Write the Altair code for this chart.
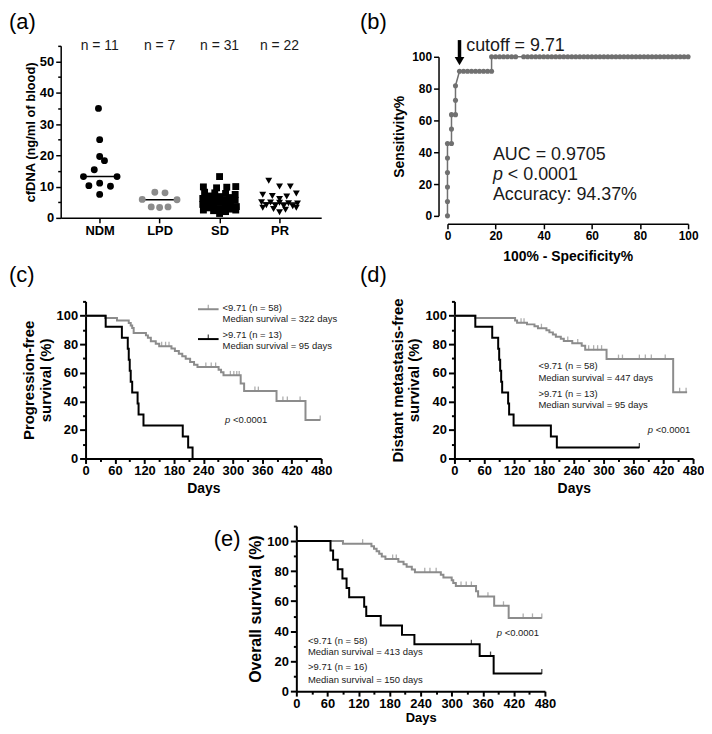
import altair as alt
import pandas as pd
import numpy as np

FONT = "Liberation Sans"
GRAY = "#8c8c8c"
ROC_GRAY = "#707070"
TXT = "#1a1a1a"

# ---------------- (a) scatter data ----------------
a_groups = ["NDM", "LPD", "SD", "PR"]
a_colors = ["black", GRAY, "black", "black"]
a_shapes = ["circle", "circle", "square", "triangle-down"]
a_yticks = [0, 5, 10, 15, 20, 25, 30, 35, 40, 45, 50, 55]

ndm_vals = [35.0, 25.0, 19.6, 18.3, 15.4, 13.2, 13.2, 11.1, 10.3, 10.1, 7.5]
ndm_jit = [-0.02, 0.0, 0.0, 0.08, -0.09, -0.27, 0.29, 0.0, -0.18, 0.18, 0.0]
lpd_vals = [8.2, 8.0, 5.9, 5.8, 3.5, 3.3, 3.5]
lpd_jit = [-0.08, 0.09, -0.29, 0.29, -0.14, 0.0, 0.14]
sd_vals = [13.2, 9.9, 9.6, 9.8, 10.0, 8.2, 8.0, 7.8, 7.5, 7.0, 6.8, 6.5, 6.2, 6.0, 5.8, 5.6,
           5.2, 5.0, 4.8, 4.3, 4.1, 3.9, 3.6, 3.2, 3.0, 2.8, 2.5, 2.5, 2.3, 2.0, 1.4]
sd_jit = [0.0, -0.27, -0.05, 0.12, 0.27, -0.25, -0.08, 0.1, 0.26, -0.17, 0.0, 0.17, -0.28, -0.1, 0.08, 0.26,
          -0.18, 0.0, 0.18, -0.28, -0.1, 0.1, 0.28, -0.2, 0.0, 0.2, -0.27, 0.27, -0.1, 0.1, 0.0]
pr_vals = [11.9, 10.0, 10.0, 7.8, 7.4, 7.0, 6.8, 6.0, 5.0, 4.9, 4.8, 4.7, 4.6, 4.0, 3.9, 3.8, 3.7,
           3.2, 3.2, 2.8, 2.6, 1.8]
pr_jit = [-0.18, 0.0, 0.18, 0.28, -0.28, -0.12, 0.12, 0.0, -0.3, -0.15, 0.0, 0.15, 0.3, -0.22, -0.07, 0.07, 0.22,
          -0.28, 0.28, -0.1, 0.1, 0.0]

# ---------------- (b) ROC data ----------------
roc_fpr = [0, 0, 0, 0, 0, 0, 1.67, 1.67, 1.67, 3.33, 3.33, 3.33,
           5.0, 6.67, 8.33, 10.0, 11.67, 13.33, 15.0, 16.67, 18.33,
           18.33, 20.0, 21.67, 23.33, 25.0, 26.67, 28.33,
           31.67, 33.33, 35.0, 36.67, 38.33, 40.0, 41.67, 43.33, 45.0, 46.67, 48.33, 50.0, 51.67, 53.33,
           55.0, 56.67, 58.33, 60.0, 61.67, 63.33, 65.0, 66.67, 68.33, 70.0, 71.67, 73.33, 75.0, 76.67,
           78.33, 80.0, 81.67, 83.33, 85.0, 86.67, 88.33, 90.0, 91.67, 93.33, 95.0, 96.67, 98.33, 100.0]
roc_sens = [0, 9.09, 18.18, 27.27, 36.36, 45.45, 45.45, 54.55, 63.64, 63.64, 72.73, 81.82,
            90.91, 90.91, 90.91, 90.91, 90.91, 90.91, 90.91, 90.91, 90.91,
            100, 100, 100, 100, 100, 100, 100,
            100, 100, 100, 100, 100, 100, 100, 100, 100, 100, 100, 100, 100, 100,
            100, 100, 100, 100, 100, 100, 100, 100, 100, 100, 100, 100, 100, 100,
            100, 100, 100, 100, 100, 100, 100, 100, 100, 100, 100, 100, 100, 100]
roc_ticks = [0, 20, 40, 60, 80, 100]
cutoff_index = 12

# ---------------- Kaplan-Meier data ----------------
km_xticks = [0, 30, 60, 90, 120, 150, 180, 210, 240, 270, 300, 330, 360, 390, 420, 450, 480]
km_yticks = [0, 10, 20, 30, 40, 50, 60, 70, 80, 90, 100, 110]

# (c) progression-free survival
c_lo_t = [0, 40, 64, 88, 92, 95, 98, 123, 127, 133, 143, 150, 175, 182, 190, 197, 204, 213, 221, 228,
          271, 276, 281, 316, 323, 389, 448, 478]
c_lo_s = [100, 98.3, 96.6, 94.8, 93.1, 91.4, 87.9, 86.2, 84.5, 82.0, 80.3, 78.6, 77.0, 75.3, 73.4, 71.6,
          69.8, 67.6, 65.7, 64.0, 62.2, 60.4, 58.2, 52.5, 47.2, 40.3, 26.9, 26.9]
c_lo_cens = [155, 163, 170, 245, 256, 265, 295, 302, 308, 313, 345, 352, 402, 411, 437, 478]
c_hi_t = [0, 41, 74, 86, 88, 90, 92, 95, 106, 108, 118, 198, 209, 218]
c_hi_s = [100, 92.3, 84.6, 76.9, 69.2, 61.5, 53.8, 46.2, 38.5, 30.8, 23.1, 15.4, 7.7, 0]
c_hi_cens = []

# (d) distant metastasis-free survival
d_lo_t = [0, 42, 122, 126, 146, 161, 168, 185, 191, 198, 204, 214, 220, 237, 256, 263, 306, 440, 468]
d_lo_s = [100, 98.3, 96.6, 95.0, 93.9, 92.6, 91.2, 89.8, 88.3, 86.8, 85.3, 83.8, 82.2, 80.6, 78.9,
          76.2, 69.6, 46.4, 46.4]
d_lo_cens = [134, 140, 175, 228, 248, 270, 280, 288, 296, 330, 338, 372, 384, 396, 424, 453, 466]
d_hi_t = [0, 42, 76, 88, 90, 92, 94, 96, 108, 110, 119, 194, 206, 372]
d_hi_s = [100, 92.3, 84.6, 76.9, 69.2, 61.5, 53.8, 46.2, 38.5, 30.8, 23.1, 15.4, 7.7, 7.7]
d_hi_cens = [372]

# (e) overall survival
e_lo_t = [0, 90, 145, 150, 155, 160, 165, 172, 197, 207, 213, 223, 229, 279, 284, 300, 303, 308,
          347, 351, 382, 410, 474]
e_lo_s = [100, 98.3, 96.6, 94.9, 93.2, 91.5, 89.8, 88.1, 86.3, 84.6, 82.9, 81.1, 79.3, 77.5, 75.7,
          73.9, 72.0, 70.1, 66.6, 63.0, 56.9, 48.8, 48.8]
e_lo_cens = [128, 186, 193, 248, 258, 270, 318, 328, 338, 370, 400, 438, 456, 474]
e_hi_t = [0, 66, 71, 80, 89, 97, 102, 131, 135, 163, 204, 228, 354, 381, 474]
e_hi_s = [100, 93.75, 87.5, 81.25, 75.0, 68.75, 62.5, 56.25, 50.0, 43.75, 37.5, 31.25, 23.4, 11.7, 11.7]
e_hi_cens = [338, 375, 474]


def axis_style(**kw):
    base = dict(grid=False, labelFont=FONT, titleFont=FONT, labelFontWeight="bold",
                titleFontWeight="bold", labelColor="black", titleColor="black",
                domainColor="black", tickColor="black", labelOverlap=False, labelFlush=False)
    base.update(kw)
    return alt.Axis(**base)


def panel_label(text, dx, dy):
    return alt.Chart(pd.DataFrame({"lab": [text]})).mark_text(
        fontSize=22, font=FONT, align="left", baseline="top", color="black"
    ).encode(x=alt.value(dx), y=alt.value(dy), text="lab:N")


# ================= panel (a) =================
a_series = [ndm_vals, lpd_vals, sd_vals, pr_vals]
a_jits = [ndm_jit, lpd_jit, sd_jit, pr_jit]
rows = []
for gi, (g, vals, jit) in enumerate(zip(a_groups, a_series, a_jits)):
    for v, j in zip(vals, jit):
        rows.append({"grp": g, "gx": gi + 1 + j, "v": v})
a_df = pd.DataFrame(rows)
a_sum = pd.DataFrame({
    "grp": a_groups,
    "gx": [i + 1 for i in range(len(a_groups))],
    "lo": [i + 1 - 0.28 for i in range(len(a_groups))],
    "hi": [i + 1 + 0.28 for i in range(len(a_groups))],
    "v": [float(np.median(s)) for s in a_series],
    "top": [55.0] * len(a_groups),
    "n": [f"n = {len(s)}" for s in a_series],
})
a_label_expr = "[''," + ",".join(f"'{g}'" for g in a_groups) + "][datum.value]"


def a_x(field="gx"):
    return alt.X(f"{field}:Q", title=None,
                 scale=alt.Scale(domain=[0.35, 4.695], nice=False, zero=False),
                 axis=axis_style(values=[1, 2, 3, 4], labelExpr=a_label_expr, labelFontSize=13,
                                 tickSize=5, labelPadding=2, domainWidth=1.5, tickWidth=1.5))


def a_y(field="v"):
    return alt.Y(f"{field}:Q", title="cfDNA (ng/ml of blood)",
                 scale=alt.Scale(domain=[0, 55], nice=False, zero=True),
                 axis=axis_style(values=a_yticks,
                                 labelExpr="datum.value % 10 == 0 ? datum.label : ''",
                                 tickSize={"condition": {"test": "datum.value % 10 == 0", "value": 5}, "value": 3},
                                 labelFontSize=13, titleFontSize=13, titlePadding=2, labelPadding=2,
                                 domainWidth=1.5, tickWidth=1.5))


a_med = alt.Chart(a_sum).mark_rule(color="black", strokeWidth=1.5).encode(
    x=a_x("lo"), x2="hi:Q", y=a_y("v"))
a_pts = alt.Chart(a_df).mark_point(filled=True, opacity=1, size=48).encode(
    x=a_x(), y=a_y(),
    shape=alt.Shape("grp:N", scale=alt.Scale(domain=a_groups, range=a_shapes), legend=None),
    color=alt.Color("grp:N", scale=alt.Scale(domain=a_groups, range=a_colors), legend=None))
a_n = alt.Chart(a_sum).mark_text(fontSize=14, font=FONT, color=TXT, baseline="middle").encode(
    x=a_x(), y=a_y("top"), text="n:N")
panel_a = alt.layer(a_med, a_pts, a_n, panel_label("(a)", -52, -34)).properties(width=262, height=173)

# ================= panel (b) =================
b_df = pd.DataFrame({"x": roc_fpr, "y": roc_sens, "i": list(range(len(roc_fpr)))})


def b_x(field="x"):
    return alt.X(f"{field}:Q", title="100% - Specificity%",
                 scale=alt.Scale(domain=[0, 100], nice=False),
                 axis=axis_style(values=roc_ticks, offset=8, tickSize=5, labelFontSize=12,
                                 titleFontSize=14, labelPadding=2, titlePadding=8,
                                 domainWidth=1.5, tickWidth=1.5))


def b_y(field="y"):
    return alt.Y(f"{field}:Q", title="Sensitivity%",
                 scale=alt.Scale(domain=[0, 100], nice=False),
                 axis=axis_style(values=roc_ticks, offset=9, tickSize=5, labelFontSize=12,
                                 titleFontSize=14, labelPadding=2, titlePadding=5,
                                 domainWidth=1.5, tickWidth=1.5))


b_line = alt.Chart(b_df).mark_line(color=ROC_GRAY, strokeWidth=1.5).encode(
    x=b_x(), y=b_y(), order="i:Q")
b_pts = alt.Chart(b_df).mark_circle(color=ROC_GRAY, size=26, opacity=1).encode(x=b_x(), y=b_y())
arrow_df = pd.DataFrame({"x": [roc_fpr[cutoff_index]], "y": [110.5], "y2": [99.5], "yh": [97.3]})
b_arrow = alt.Chart(arrow_df).mark_rule(color="black", strokeWidth=3.5).encode(
    x=b_x(), y=b_y(), y2="y2:Q")
b_head = alt.Chart(arrow_df).mark_point(shape="triangle-down", filled=True, size=95, color="black",
                                        opacity=1).encode(x=b_x(), y=b_y("yh"))
b_notes = pd.DataFrame({
    "x": [7.8, 18.9, 18.9],
    "y": [107, 38, 13],
    "t": ["cutoff = 9.71", "AUC = 0.9705", "Accuracy: 94.37%"],
})
b_txt = alt.Chart(b_notes).mark_text(fontSize=18, font=FONT, align="left", baseline="middle",
                                     color=TXT).encode(x=b_x(), y=b_y(), text="t:N")
b_p = pd.DataFrame({"x": [18.9], "y": [25.6], "p": ["p"], "t": ["< 0.0001"]})
b_p1 = alt.Chart(b_p).mark_text(fontSize=18, font=FONT, align="left", baseline="middle", fontStyle="italic",
                                color=TXT).encode(x=b_x(), y=b_y(), text="p:N")
b_p2 = alt.Chart(b_p).mark_text(fontSize=18, font=FONT, align="left", baseline="middle", dx=15,
                                color=TXT).encode(x=b_x(), y=b_y(), text="t:N")
panel_b = alt.layer(b_line, b_pts, b_arrow, b_head, b_txt, b_p1, b_p2,
                    panel_label("(b)", -88, -45)).properties(width=242, height=160)


# ================= KM panels =================
def step_at(ts, ss, t):
    val = ss[0]
    for ti, si in zip(ts, ss):
        if ti <= t:
            val = si
    return val


def km_panel(lo_t, lo_s, lo_c, hi_t, hi_s, hi_c, w, h, ytitle, ytitle_size, lab_size, xtitle_size,
             xtitle_pad, notes, notes_x, p_xy, label, lab_dx, lab_dy, legend=None):
    def kx(field="t"):
        return alt.X(f"{field}:Q", title="Days",
                     scale=alt.Scale(domain=[0, 480], nice=False, zero=False),
                     axis=axis_style(values=km_xticks,
                                     labelExpr="datum.value % 60 == 0 ? datum.label : ''",
                                     tickSize={"condition": {"test": "datum.value % 60 == 0", "value": 5}, "value": 3},
                                     labelFontSize=lab_size, titleFontSize=xtitle_size, labelPadding=1,
                                     titlePadding=xtitle_pad, domainWidth=2, tickWidth=2))

    def ky(field="s"):
        return alt.Y(f"{field}:Q", title=ytitle,
                     scale=alt.Scale(domain=[0, 110], nice=False, zero=True),
                     axis=axis_style(values=km_yticks,
                                     labelExpr="datum.value % 20 == 0 && datum.value <= 100 ? datum.label : ''",
                                     tickSize={"condition": {"test": "datum.value % 20 == 0 && datum.value <= 100", "value": 6}, "value": 3},
                                     labelFontSize=lab_size, titleFontSize=ytitle_size, titleLineHeight=17,
                                     labelPadding=2, titlePadding=3, domainWidth=2, tickWidth=2))

    lo = pd.DataFrame({"t": lo_t, "s": lo_s})
    hi = pd.DataFrame({"t": hi_t, "s": hi_s})
    loc = pd.DataFrame({"t": lo_c, "s": [step_at(lo_t, lo_s, t) for t in lo_c]})
    hic = pd.DataFrame({"t": hi_c, "s": [step_at(hi_t, hi_s, t) for t in hi_c]})
    layers = [
        alt.Chart(lo).mark_line(interpolate="step-after", color=GRAY, strokeWidth=2).encode(x=kx(), y=ky()),
        alt.Chart(loc).mark_tick(orient="vertical", size=5, thickness=1.3, color=GRAY, yOffset=-2).encode(x=kx(), y=ky()),
        alt.Chart(hi).mark_line(interpolate="step-after", color="black", strokeWidth=2).encode(x=kx(), y=ky()),
    ]
    if len(hic):
        layers.append(alt.Chart(hic).mark_tick(orient="vertical", size=5, thickness=1.3, color="black",
                                               yOffset=-2).encode(x=kx(), y=ky()))
    nd = pd.DataFrame({"t": [notes_x] * len(notes), "s": [n[0] for n in notes], "txt": [n[1] for n in notes]})
    layers.append(alt.Chart(nd).mark_text(fontSize=9.5, font=FONT, align="left", baseline="middle",
                                          color=TXT).encode(x=kx(), y=ky(), text="txt:N"))
    pd_ = pd.DataFrame({"t": [p_xy[0]], "s": [p_xy[1]], "p": ["p"], "txt": ["<0.0001"]})
    layers.append(alt.Chart(pd_).mark_text(fontSize=9.5, font=FONT, align="left", baseline="middle",
                                           fontStyle="italic", color=TXT).encode(x=kx(), y=ky(), text="p:N"))
    layers.append(alt.Chart(pd_).mark_text(fontSize=9.5, font=FONT, align="left", baseline="middle",
                                           dx=8, color=TXT).encode(x=kx(), y=ky(), text="txt:N"))
    if legend is not None:
        t0, t1, s_lo, s_hi = legend
        for s_val, colr in [(s_lo, GRAY), (s_hi, "black")]:
            lg = pd.DataFrame({"t": [t0], "t2": [t1], "s": [s_val], "tm": [(t0 + t1) / 2]})
            layers.append(alt.Chart(lg).mark_rule(strokeWidth=2, color=colr).encode(
                x=kx(), x2="t2:Q", y=ky()))
            layers.append(alt.Chart(lg).mark_tick(orient="vertical", size=5, thickness=1.3, yOffset=-2,
                                                  color=colr).encode(x=kx("tm"), y=ky()))
    layers.append(panel_label(label, lab_dx, lab_dy))
    return alt.layer(*layers).properties(width=w, height=h)


panel_c = km_panel(c_lo_t, c_lo_s, c_lo_cens, c_hi_t, c_hi_s, c_hi_cens, 237, 158,
                   ["Progression-free", "survival (%)"], 15, 13, 14, 4,
                   [(105.6, "<9.71 (n = 58)"), (98.0, "Median survival = 322 days"),
                    (86.4, ">9.71 (n = 13)"), (78.5, "Median survival = 95 days")], 279,
                   (284, 26.7), "(c)", -77, -36, legend=(229, 271, 104.5, 83.6))
panel_d = km_panel(d_lo_t, d_lo_s, d_lo_cens, d_hi_t, d_hi_s, d_hi_cens, 240, 158,
                   ["Distant metastasis-free", "survival (%)"], 15, 13, 14, 4,
                   [(65.0, "<9.71 (n = 58)"), (56.4, "Median survival = 447 days"),
                    (45.3, ">9.71 (n = 13)"), (37.1, "Median survival = 95 days")], 169,
                   (389, 19.7), "(d)", -95, -36)
panel_e = km_panel(e_lo_t, e_lo_s, e_lo_cens, e_hi_t, e_hi_s, e_hi_cens, 250, 166,
                   "Overall survival (%)", 16, 13, 13, 2,
                   [(33.6, "<9.71 (n = 58)"), (25.9, "Median survival = 413 days"),
                    (16.0, ">9.71 (n = 16)"), (7.4, "Median survival = 150 days")], 22.5,
                   (387, 38.6), "(e)", -83, 3)


# ================= layout =================
def spacer(w, h):
    return alt.Chart(pd.DataFrame({"t": [0]})).mark_point(opacity=0, size=1).encode(
        x=alt.X("t:Q", axis=None), y=alt.Y("t:Q", axis=None)).properties(width=w, height=h)


def column(panel, top_gap):
    return alt.concat(spacer(1, top_gap), panel, columns=1, spacing=0, align="none")


row1 = alt.concat(spacer(1, 1), column(panel_a, 1), spacer(39, 1), column(panel_b, 1),
                  columns=4, spacing=0, align="none")
row2 = alt.concat(spacer(1, 1), column(panel_c, 1), spacer(22, 1), column(panel_d, 1),
                  columns=4, spacing=0, align="none")
row3 = alt.concat(spacer(207, 1), column(panel_e, 25), columns=2, spacing=0, align="none")

chart = alt.concat(row1, row2, row3, columns=1, spacing=0, align="none").properties(
    padding={"left": 0, "top": 0, "right": 0, "bottom": 0}
).configure_view(stroke=None).configure_text(font=FONT)

chart.save("out.html", embed_options={"renderer": "svg", "actions": False})
